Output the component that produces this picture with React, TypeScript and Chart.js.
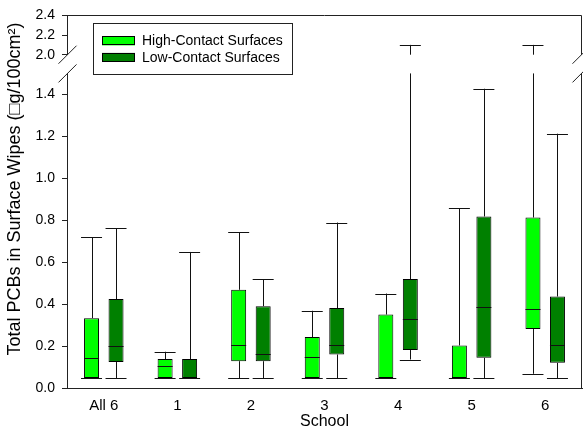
import React, { useEffect, useRef } from 'react';
import { Chart, registerables } from 'chart.js';

Chart.register(...registerables);

const FONT = "'Liberation Sans', Arial, Helvetica, sans-serif";

const categories = ['All 6', '1', '2', '3', '4', '5', '6'];
const seriesNames = ['High-Contact Surfaces', 'Low-Contact Surfaces'];
const seriesColors = ['#00FF00', '#008000'];

const highMin = [0.05, 0.05, 0.05, 0.05, 0.05, 0.05, 0.07];
const highQ1 = [0.05, 0.05, 0.13, 0.05, 0.05, 0.05, 0.283];
const highMedian = [0.145, 0.105, 0.207, 0.152, 0.05, 0.05, 0.38];
const highQ3 = [0.335, 0.14, 0.47, 0.245, 0.352, 0.205, 0.814];
const highMax = [0.72, 0.175, 0.745, 0.37, 0.452, 0.857, 2.1];

const lowMin = [0.05, 0.05, 0.05, 0.05, 0.138, 0.05, 0.05];
const lowQ1 = [0.126, 0.05, 0.13, 0.162, 0.183, 0.146, 0.122];
const lowMedian = [0.202, 0.05, 0.164, 0.207, 0.329, 0.388, 0.207];
const lowQ3 = [0.426, 0.14, 0.392, 0.383, 0.521, 0.819, 0.438];
const lowMax = [0.762, 0.65, 0.521, 0.79, 2.1, 1.427, 1.213];

const lowerTicks = [0, 0.2, 0.4, 0.6, 0.8, 1.0, 1.2, 1.4];
const upperTicks = [2.0, 2.2, 2.4];

const xTitle = 'School';
const yTitle = 'Total PCBs in Surface Wipes (\u25A1g/100cm\u00B2)';

const stats = [
  { min: highMin, q1: highQ1, med: highMedian, q3: highQ3, max: highMax },
  { min: lowMin, q1: lowQ1, med: lowMedian, q3: lowQ3, max: lowMax },
];

function valuePixel(chart: any, v: number) {
  const lo = chart.scales.yLow;
  const up = chart.scales.yUp;
  return v > lo.max ? up.getPixelForValue(v) : lo.getPixelForValue(v);
}

const boxPlugin = {
  id: 'boxWhisker',
  afterDatasetsDraw(chart: any) {
    const ctx = chart.ctx;
    const lo = chart.scales.yLow;
    const up = chart.scales.yUp;
    const seg = (x1: number, y1: number, x2: number, y2: number) => {
      ctx.beginPath();
      ctx.moveTo(x1, y1);
      ctx.lineTo(x2, y2);
      ctx.stroke();
    };
    const cy = (y: number) => Math.round(y) + 0.5;
    ctx.save();
    ctx.strokeStyle = '#111';
    ctx.lineWidth = 1;
    chart.data.datasets.forEach((_: any, di: number) => {
      const g = stats[di];
      const meta = chart.getDatasetMeta(di);
      meta.data.forEach((bar: any, j: number) => {
        const bx = bar.x;
        const w = bar.width;
        const x = Math.round(bx) + 0.5;
        const capHalf = w * 0.7;
        const yq1 = lo.getPixelForValue(g.q1[j]);
        const yq3 = lo.getPixelForValue(g.q3[j]);
        const ymed = lo.getPixelForValue(g.med[j]);
        const ymin = valuePixel(chart, g.min[j]);
        const ymax = valuePixel(chart, g.max[j]);
        if (g.max[j] > lo.max) {
          seg(x, yq3, x, lo.top);
          seg(x, up.bottom, x, ymax);
        } else {
          seg(x, yq3, x, ymax);
        }
        seg(x, yq1, x, ymin);
        seg(bx - capHalf, cy(ymax), bx + capHalf, cy(ymax));
        seg(bx - capHalf, cy(ymin), bx + capHalf, cy(ymin));
        seg(bx - w / 2, cy(ymed), bx + w / 2, cy(ymed));
      });
    });
    ctx.restore();
  },
};

const framePlugin = {
  id: 'frameAndLegend',
  afterDraw(chart: any) {
    const ctx = chart.ctx;
    const area = chart.chartArea;
    const lo = chart.scales.yLow;
    const up = chart.scales.yUp;
    const L = Math.round(area.left) + 0.5;
    const R = Math.round(area.right) - 0.5;
    const T = Math.round(area.top) + 0.5;
    const seg = (x1: number, y1: number, x2: number, y2: number) => {
      ctx.beginPath();
      ctx.moveTo(x1, y1);
      ctx.lineTo(x2, y2);
      ctx.stroke();
    };
    ctx.save();
    ctx.strokeStyle = '#222';
    ctx.lineWidth = 1;
    // top and right frame
    seg(L, T, R, T);
    seg(R, T, R, up.bottom);
    seg(R, lo.top, R, area.bottom);
    // break marks
    const d = 9;
    [L, R].forEach((x) => {
      seg(x - d, up.bottom + d, x + d, up.bottom - d);
      seg(x - d, lo.top + d, x + d, lo.top - d);
    });
    // legend
    const lx = area.left + 26;
    const ly = area.top + 8;
    ctx.fillStyle = '#fff';
    ctx.fillRect(lx, ly, 199, 51);
    ctx.strokeStyle = '#222';
    ctx.strokeRect(Math.round(lx) + 0.5, Math.round(ly) + 0.5, 199, 51);
    ctx.font = `14px ${FONT}`;
    ctx.textBaseline = 'middle';
    ctx.textAlign = 'left';
    chart.data.datasets.forEach((ds: any, i: number) => {
      const ry = ly + 13 + i * 16.5;
      ctx.fillStyle = ds.backgroundColor;
      ctx.fillRect(lx + 9, ry, 33, 9);
      ctx.strokeStyle = '#000';
      ctx.strokeRect(Math.round(lx + 9) + 0.5, Math.round(ry) + 0.5, 32, 8);
      ctx.fillStyle = '#000';
      ctx.fillText(ds.label, lx + 49, ry + 5);
    });
    // y-axis title
    ctx.save();
    ctx.translate(15, 189);
    ctx.rotate(-Math.PI / 2);
    ctx.font = `18px ${FONT}`;
    ctx.textAlign = 'center';
    ctx.textBaseline = 'middle';
    ctx.fillStyle = '#000';
    ctx.fillText(yTitle, 0, 0);
    ctx.restore();
    ctx.restore();
  },
};

export default function App() {
  const ref = useRef<HTMLCanvasElement | null>(null);
  useEffect(() => {
    if (!ref.current) return;
    const tickFont = { size: 14, family: FONT };
    const yCommon = (extra: any) => ({
      type: 'linear',
      position: 'left',
      stack: 'yStack',
      grid: { display: true, drawOnChartArea: false, drawTicks: true, tickLength: 5, color: '#222' },
      border: { display: true, color: '#222', width: 1 },
      ticks: {
        autoSkip: false,
        font: tickFont,
        color: '#000',
        padding: 7,
        callback: (v: any) => Number(v).toFixed(1),
      },
      afterFit: (s: any) => {
        s.width = 36;
      },
      ...extra,
    });
    const chart = new Chart(ref.current, {
      type: 'bar',
      data: {
        labels: categories,
        datasets: [
          {
            label: seriesNames[0],
            data: categories.map((_, i) => [highQ1[i], highQ3[i]]),
            backgroundColor: seriesColors[0],
            borderColor: '#000',
            borderWidth: 1,
            borderSkipped: false,
            yAxisID: 'yLow',
            categoryPercentage: 0.666,
            barPercentage: 0.612,
          },
          {
            label: seriesNames[1],
            data: categories.map((_, i) => [lowQ1[i], lowQ3[i]]),
            backgroundColor: seriesColors[1],
            borderColor: '#000',
            borderWidth: 1,
            borderSkipped: false,
            yAxisID: 'yLow',
            categoryPercentage: 0.666,
            barPercentage: 0.612,
          },
        ] as any,
      },
      options: {
        animation: false,
        responsive: false,
        maintainAspectRatio: false,
        layout: { padding: { left: 31, right: 1, top: 14, bottom: 7.5 } },
        plugins: { legend: { display: false }, tooltip: { enabled: false }, title: { display: false } },
        scales: {
          x: {
            type: 'category',
            offset: true,
            grid: { display: false, drawTicks: false },
            border: { display: true, color: '#222', width: 1 },
            ticks: { font: { size: 15, family: FONT, lineHeight: 1 }, color: '#000', padding: 9.5 },
            title: {
              display: true,
              text: xTitle,
              color: '#000',
              font: { size: 16, family: FONT, lineHeight: 1 },
              padding: { top: -9, bottom: 0 },
            },
          },
          yUp: yCommon({
            weight: 3,
            stackWeight: 39.3,
            min: 2.0,
            max: 2.4,
            afterBuildTicks: (s: any) => {
              s.ticks = upperTicks.map((value) => ({ value }));
            },
          }),
          ySpace: {
            type: 'linear',
            position: 'left',
            stack: 'yStack',
            weight: 2,
            stackWeight: 18.7,
            min: 0,
            max: 1,
            grid: { display: false },
            border: { display: false },
            ticks: { display: false },
            afterFit: (s: any) => {
              s.width = 36;
            },
          },
          yLow: yCommon({
            weight: 1,
            stackWeight: 315,
            min: 0,
            max: 1.5,
            afterBuildTicks: (s: any) => {
              s.ticks = lowerTicks.map((value) => ({ value }));
            },
          }),
        } as any,
      },
      plugins: [boxPlugin, framePlugin],
    });
    return () => chart.destroy();
  }, []);
  return (
    <div style={{ position: 'fixed', left: 0, top: 0, width: 583, height: 437, background: '#fff' }}>
      <canvas ref={ref} width={583} height={437} style={{ display: 'block' }} />
    </div>
  );
}
